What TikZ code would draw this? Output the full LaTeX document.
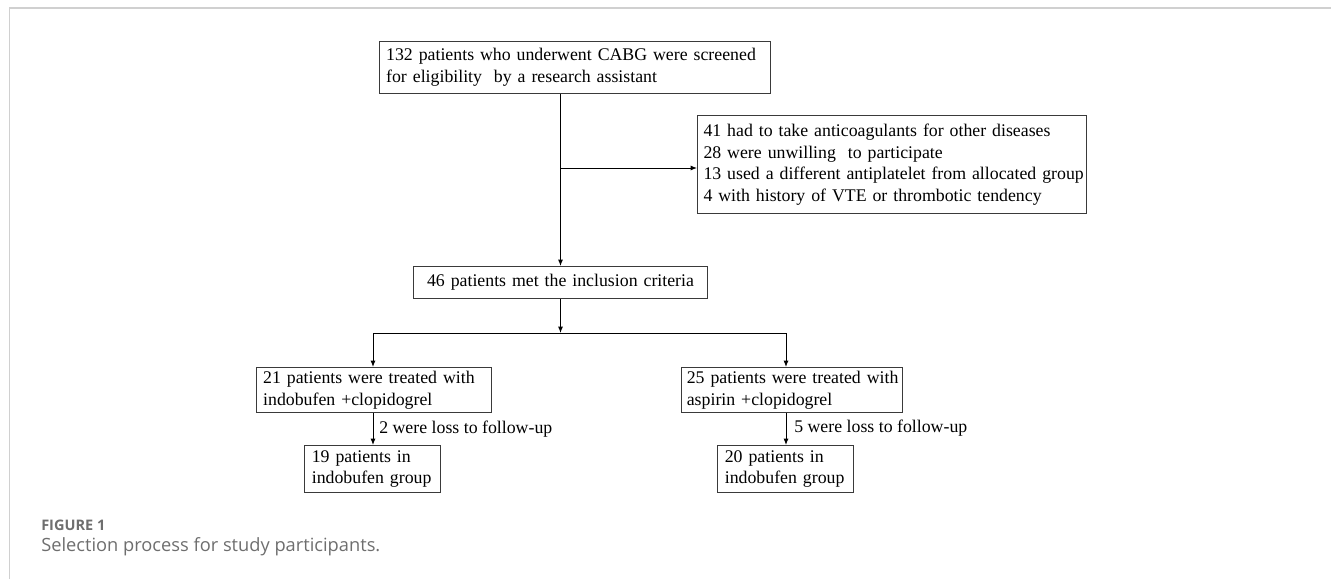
\documentclass[tikz,border=0pt]{standalone}
\usepackage{fontspec}
\setmainfont{Liberation Serif}
\newfontfamily\capfont{Open Sans}
\usetikzlibrary{arrows.meta}
\newcommand{\oneline}[1]{\mbox{#1}}
\definecolor{framegray}{HTML}{D0D0D0}
\definecolor{capgray}{HTML}{6E6E6E}
\definecolor{boxline}{HTML}{3A3A3A}
\tikzset{
  box/.style={draw=boxline, line width=0.75pt, anchor=north west, inner ysep=0pt,
    inner xsep=4pt, align=left, font=\fontsize{13.35pt}{16.2pt}\selectfont},
  lbl/.style={anchor=west, inner sep=0pt, font=\fontsize{13.35pt}{16.2pt}\selectfont},
  arr/.style={draw=black, line width=0.75pt, -{Latex[length=4.8pt,width=3.8pt]}},
  conn/.style={draw=black, line width=0.75pt}
}
\begin{document}
\begin{tikzpicture}[x=0.75pt,y=-0.75pt]
\useasboundingbox (0,0) rectangle (1331,579);
% outer frame
\draw[framegray, line width=1.1pt] (9.5,579) -- (9.5,8) -- (1331,8);
% boxes
\node[box, minimum width=293.25pt, minimum height=39pt, text width=285.25pt, inner xsep=5pt, text width=283.25pt] (A) at (379,41)
  {\oneline{132 patients who underwent CABG were screened}\\\oneline{for eligibility\ \ by a research assistant}};
\node[box, minimum width=291.75pt, minimum height=73.5pt, inner xsep=4.5pt, text width=282.75pt] (B) at (697,115)
  {\oneline{41 had to take anticoagulants for other diseases}\\
   \oneline{28 were unwilling\ \ to participate}\\
   \oneline{13 used a different antiplatelet from allocated group}\\
   \oneline{4 with history of VTE or thrombotic tendency}};
\node[box, minimum width=220.5pt, minimum height=24pt, text width=212.5pt, align=center] (C) at (413,266)
  {\oneline{46 patients met the inclusion criteria}};
\node[box, minimum width=176.25pt, minimum height=33.75pt, inner xsep=5pt, text width=166.25pt] (D) at (256,367)
  {\oneline{21 patients were treated with}\\\oneline{indobufen +clopidogrel}};
\node[box, minimum width=165.75pt, minimum height=33.75pt, text width=157.75pt] (E) at (681,367)
  {\oneline{25 patients were treated with}\\\oneline{aspirin +clopidogrel}};
\node[box, minimum width=102pt, minimum height=35.25pt, inner xsep=5.5pt, text width=91pt] (F) at (304,445)
  {\oneline{19 patients in}\\\oneline{indobufen group}};
\node[box, minimum width=102pt, minimum height=35.25pt, inner xsep=5.5pt, text width=91pt] (G) at (717,445)
  {\oneline{20 patients in}\\\oneline{indobufen group}};
% connectors
\draw[arr] (A.south -| C.north) -- (C.north);
\coordinate (br) at (C.north |- 0,168);
\draw[arr] (br) -- (br -| B.west);
\coordinate (split) at (C.south |- 0,333);
\coordinate (L) at (373,333);
\coordinate (R) at (786,333);
\draw[arr] (C.south) -- (split);
\draw[conn] (L) -- (R);
\draw[arr] (L) -- (L |- D.north);
\draw[arr] (R) -- (R |- E.north);
\draw[arr] (L |- D.south) -- (L |- F.north);
\draw[arr] (R |- E.south) -- (R |- G.north);
\node[lbl] (l1) at (379,429) {2 were loss to follow-up};
\node[lbl] (l2) at (794,428) {5 were loss to follow-up};
% caption
\node[anchor=base west, inner sep=0pt, text=capgray, font=\capfont\bfseries\fontsize{10.9pt}{12pt}\selectfont] (cap1) at (41,530) {FIGURE 1};
\node[anchor=base west, inner sep=0pt, text=capgray, font=\capfont\fontsize{13.7pt}{16pt}\selectfont] (cap2) at (41,551) {Selection process for study participants.};
\end{tikzpicture}
\end{document}
